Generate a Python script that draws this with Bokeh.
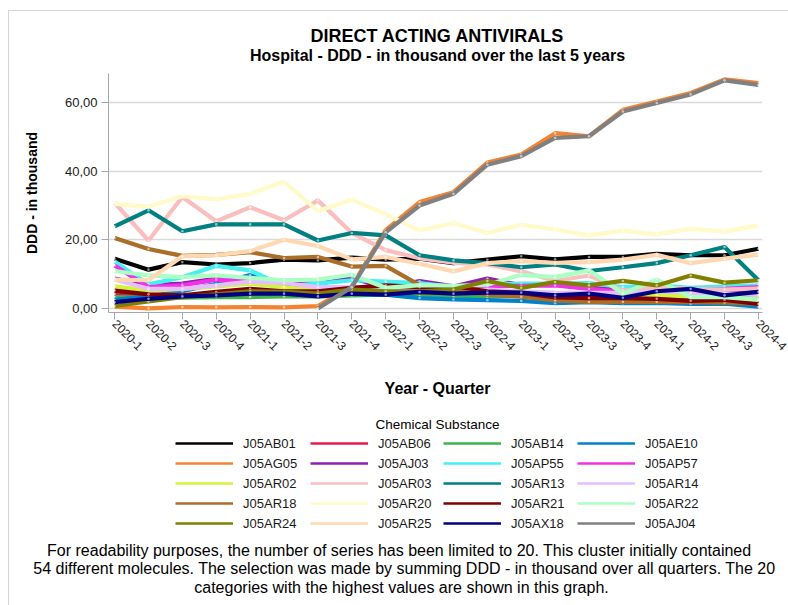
import math
from bokeh.plotting import figure
from bokeh.layouts import column
from bokeh.models import (ColumnDataSource, Legend, LegendItem, Label, FixedTicker,
                          CustomJSTickFormatter, Range1d, InlineStyleSheet)
from bokeh.embed import file_html
from bokeh.resources import INLINE

nan = float("nan")

quarters = ["2020-1", "2020-2", "2020-3", "2020-4", "2021-1", "2021-2", "2021-3", "2021-4",
            "2022-1", "2022-2", "2022-3", "2022-4", "2023-1", "2023-2", "2023-3", "2023-4",
            "2024-1", "2024-2", "2024-3", "2024-4"]

j05ab01 = [14.5, 11.3, 13.5, 12.8, 13.2, 14.2, 14.0, 14.8, 14.2, 14.5, 13.2, 14.2, 15.2, 14.3, 15.0, 15.0, 15.9, 15.5, 15.5, 17.4]
j05ab06 = [4.3, 3.8, 3.5, 4.1, 4.4, 4.0, 4.0, 4.4, 4.8, 4.5, 4.2, 4.0, 3.8, 3.5, 3.2, 3.0, 3.0, 2.8, 2.9, 2.3]
j05ab14 = [3.3, 3.1, 3.1, 3.3, 3.3, 3.5, 3.5, 3.8, 4.0, 3.5, 3.3, 3.5, 3.8, 3.8, 4.3, 4.5, 3.8, 3.5, 3.2, 2.8]
j05ae10 = [2.5, 3.5, 5.0, 7.2, 9.7, 6.3, 4.6, 4.2, 4.0, 3.0, 2.6, 2.4, 2.2, 1.5, 1.8, 1.5, 1.6, 1.3, 1.4, 0.5]
j05ag05 = [0.5, 0.0, 0.4, 0.3, 0.4, 0.3, 0.7, 6.5, 22.8, 31.0, 33.9, 42.5, 44.9, 51.1, 50.2, 57.9, 60.3, 62.8, 66.8, 65.7]
j05aj03 = [8.7, 6.7, 7.2, 8.7, 7.8, 7.8, 7.2, 8.9, 6.0, 8.0, 6.4, 8.7, 6.7, 7.2, 6.0, 5.5, 5.8, 5.2, 5.5, 5.0]
j05ap55 = [13.7, 7.0, 9.1, 12.4, 11.1, 6.5, 7.2, 8.2, 7.8, 7.4, 6.2, 7.0, 7.2, 7.2, 7.4, 6.2, 6.7, 6.0, 6.4, 6.7]
j05ap57 = [12.5, 6.2, 6.7, 8.4, 7.8, 7.2, 6.0, 6.0, 6.3, 6.5, 6.2, 6.5, 6.6, 6.7, 5.7, 4.8, 5.2, 5.5, 5.7, 6.2]
j05ar02 = [6.4, 5.2, 5.7, 6.4, 7.2, 6.2, 5.2, 6.2, 5.2, 5.2, 5.0, 4.8, 4.6, 4.4, 4.2, 4.0, 3.8, 3.5, 3.2, 2.6]
j05ar03 = [30.8, 19.8, 32.5, 25.4, 29.5, 25.7, 31.5, 22.0, 17.0, 14.6, 13.3, 12.8, 10.8, 8.0, 9.6, 5.2, 6.2, 5.7, 5.5, 5.8]
j05ar13 = [23.9, 28.6, 22.5, 24.5, 24.5, 24.5, 19.8, 22.0, 21.3, 15.5, 14.0, 13.2, 12.0, 12.8, 10.9, 12.0, 13.2, 15.5, 17.9, 8.2]
j05ar14 = [8.4, 5.7, 5.7, 6.7, 7.8, 7.4, 6.2, 6.2, 6.0, 5.5, 5.0, 5.5, 5.0, 4.6, 4.5, 4.5, 5.0, 4.5, 4.4, 4.0]
j05ar18 = [20.5, 17.3, 15.3, 15.6, 16.4, 14.7, 15.0, 12.2, 12.4, 6.8, 5.4, 4.0, 3.4, 2.3, 1.9, 1.9, 1.9, 1.8, 1.7, 1.4]
j05ar20 = [30.5, 29.7, 32.7, 31.8, 33.4, 37.0, 28.4, 31.7, 27.5, 22.7, 24.9, 22.0, 24.4, 23.0, 21.3, 22.7, 21.6, 23.2, 22.4, 24.2]
j05ar21 = [5.2, 4.1, 3.8, 4.8, 5.7, 5.0, 5.0, 6.0, 6.7, 6.2, 6.5, 5.0, 4.5, 3.2, 3.0, 3.0, 2.8, 2.2, 2.5, 1.3]
j05ar22 = [10.9, 9.6, 9.1, 9.6, 8.9, 8.2, 8.4, 9.8, 6.0, 6.8, 6.6, 6.9, 9.8, 9.1, 11.1, 4.3, 8.4, 3.3, 3.3, 2.5]
j05ar24 = [0.7, 2.0, 3.3, 4.1, 5.0, 4.8, 4.3, 5.5, 5.0, 5.0, 5.5, 8.0, 6.0, 7.7, 6.7, 8.0, 6.7, 9.6, 7.5, 8.2]
j05ar25 = [8.4, 8.2, 15.2, 15.5, 16.7, 20.0, 18.2, 14.3, 15.0, 13.0, 10.8, 13.2, 13.8, 13.3, 13.5, 14.2, 15.6, 13.2, 14.5, 15.7]
j05ax18 = [1.8, 2.8, 3.5, 3.8, 4.3, 4.3, 3.5, 4.3, 4.0, 4.8, 4.3, 4.6, 4.6, 3.8, 4.3, 3.1, 5.0, 5.7, 3.8, 4.8]
j05aj04 = [nan, nan, nan, nan, nan, nan, 0.0, 6.2, 22.2, 30.0, 33.4, 41.9, 44.4, 49.7, 50.2, 57.4, 59.9, 62.4, 66.5, 65.2]

names = ["J05AB01", "J05AB06", "J05AB14", "J05AE10", "J05AG05", "J05AJ03", "J05AP55", "J05AP57",
         "J05AR02", "J05AR03", "J05AR13", "J05AR14", "J05AR18", "J05AR20", "J05AR21", "J05AR22",
         "J05AR24", "J05AR25", "J05AX18", "J05AJ04"]
series = [j05ab01, j05ab06, j05ab14, j05ae10, j05ag05, j05aj03, j05ap55, j05ap57,
          j05ar02, j05ar03, j05ar13, j05ar14, j05ar18, j05ar20, j05ar21, j05ar22,
          j05ar24, j05ar25, j05ax18, j05aj04]
colors = ["#000000", "#e6194b", "#3cb44b", "#0082c8", "#f58231", "#911eb4", "#46f0f0", "#f032e6",
          "#d2f53c", "#fabebe", "#008080", "#e6beff", "#aa6e28", "#fffac8", "#800000", "#aaffc3",
          "#808000", "#ffd8b1", "#000080", "#808080"]

FONT = "Liberation Sans"
W = 779          # content width; page x = 9 + canvas x
X0, Y0 = 9, 11   # page position of the content's top-left corner


def blank(height, y_top, y_bottom):
    f = figure(width=W, height=height, output_backend="svg", toolbar_location=None,
               x_range=Range1d(X0, X0 + W), y_range=Range1d(y_bottom, y_top),
               x_axis_location=None, y_axis_location=None,
               min_border=0, min_border_left=0, min_border_right=0,
               min_border_top=0, min_border_bottom=0)
    f.frame_align = False
    f.outline_line_color = None
    f.xgrid.visible = False
    f.ygrid.visible = False
    return f


def lab(f, text, x, y, size, bold=False):
    f.add_layout(Label(x=x, y=y, text=text, text_font=FONT, text_font_size=size,
                       text_font_style="bold" if bold else "normal",
                       text_align="center", text_baseline="middle",
                       text_color="#000000"))


# ---- top: titles (data coordinates equal page pixels) ----
top = blank(62, Y0, Y0 + 62)
lab(top, "DIRECT ACTING ANTIVIRALS", 437, 35, "18px", bold=True)
lab(top, "Hospital - DDD - in thousand over the last 5 years", 437, 55, "16px", bold=True)

# ---- main chart ----
p = figure(width=W, height=299, output_backend="svg", toolbar_location=None,
           x_range=Range1d(-0.18, 19.12), y_range=Range1d(-1.2, 68.5),
           min_border_left=99, min_border_right=26, min_border_top=0, min_border_bottom=60)
p.frame_align = False
p.outline_line_color = None

xs = list(range(len(quarters)))
for name, vals, col in zip(names, series, colors):
    src = ColumnDataSource(dict(x=xs, y=vals))
    p.line("x", "y", source=src, line_color=col, line_width=4.2)
    p.scatter("x", "y", source=src, size=2.6, marker="circle",
              fill_color="white", fill_alpha=0.55, line_color=None)

p.xaxis.ticker = FixedTicker(ticks=xs)
p.xaxis.major_label_overrides = {i: q for i, q in enumerate(quarters)}
p.xaxis.major_label_orientation = -math.pi / 4
p.yaxis.ticker = FixedTicker(ticks=[0, 20, 40, 60])
p.yaxis.formatter = CustomJSTickFormatter(code="return tick.toFixed(2).replace('.', ',');")
for ax in (p.xaxis[0], p.yaxis[0]):
    ax.axis_line_color = "#a3a8ae"
    ax.major_tick_line_color = "#a3a8ae"
    ax.minor_tick_line_color = None
    ax.major_tick_in = 0
    ax.major_tick_out = 7
    ax.major_label_text_font = FONT
    ax.major_label_text_color = "#1a1a1a"
p.xaxis.major_label_text_font_size = "12px"
p.yaxis.major_label_text_font_size = "13px"
p.xaxis.major_label_standoff = 2
p.yaxis.major_label_standoff = 4
p.yaxis.axis_label = "DDD - in thousand"
p.yaxis.axis_label_text_font = FONT
p.yaxis.axis_label_text_font_size = "14px"
p.yaxis.axis_label_text_font_style = "bold"
p.yaxis.axis_label_text_color = "#000000"
p.yaxis.axis_label_standoff = 22
p.xgrid.visible = False
p.ygrid.grid_line_color = "#d9d9d9"
p.ygrid.grid_line_width = 1.5

# ---- bottom: axis title, legend, notes (data coordinates equal page pixels) ----
bottom = blank(233, 372, 605)
lab(bottom, "Year - Quarter", 437, 388, "16px", bold=True)
lab(bottom, "Chemical Substance", 437, 424, "13.5px")

legend_lines = {}
for name, col in zip(names, colors):
    legend_lines[name] = bottom.line(x=[nan], y=[nan], line_color=col, line_width=2.6)

cols = [["J05AB01", "J05AG05", "J05AR02", "J05AR18", "J05AR24"],
        ["J05AB06", "J05AJ03", "J05AR03", "J05AR20", "J05AR25"],
        ["J05AB14", "J05AP55", "J05AR13", "J05AR21", "J05AX18"],
        ["J05AE10", "J05AP57", "J05AR14", "J05AR22", "J05AJ04"]]
col_x = [175, 310, 443, 577]   # page x of legend glyph starts
ROW_H = 20
for cx, cnames in zip(col_x, cols):
    items = [LegendItem(label=n, renderers=[legend_lines[n]]) for n in cnames]
    # location = bottom-left corner, measured from the canvas' bottom-left
    lg = Legend(items=items, location=(cx - X0, 605 - (433 + ROW_H * len(cnames))),
                orientation="vertical",
                glyph_width=58, glyph_height=ROW_H, label_height=ROW_H, spacing=0,
                label_standoff=10, padding=0, margin=0,
                border_line_color=None, background_fill_alpha=0,
                label_text_font=FONT, label_text_font_size="13px",
                label_text_color="#1a1a1a")
    bottom.add_layout(lg, "center")

lab(bottom, "For readability purposes, the number of series has been limited to  20. This cluster initially contained",
    401, 550, "16px")
lab(bottom, "54 different molecules. The selection was made by summing DDD - in thousand over all quarters. The 20",
    404, 568, "16px")
lab(bottom, "categories with the highest values are shown in this graph.", 401, 587, "16px")

layout = column(top, p, bottom, spacing=0)
layout.stylesheets = [InlineStyleSheet(css=":host { margin-left: 8px; margin-top: 10px; "
                                            "border-top: 1px solid #d6d6d6; border-left: 1px solid #d6d6d6; }")]

open("out.html", "w").write(file_html(layout, INLINE))
